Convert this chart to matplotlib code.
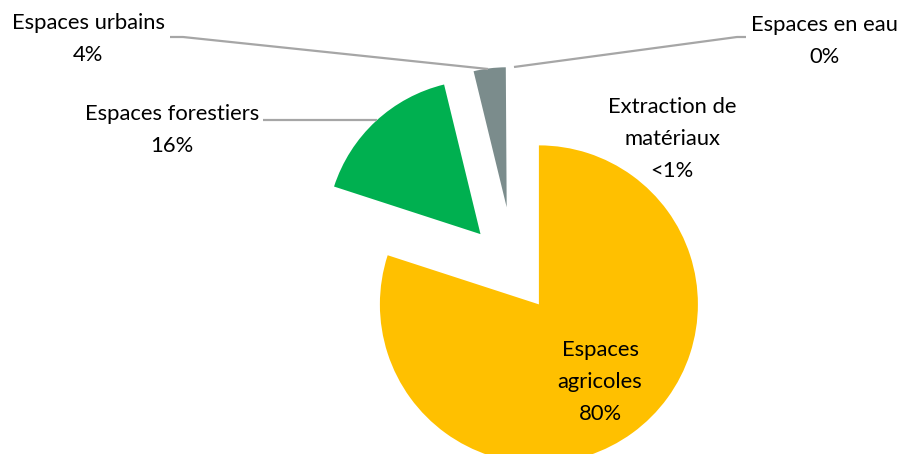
import matplotlib.pyplot as plt

# Land-use shares (percent)
categories = ["Espaces agricoles", "Espaces forestiers", "Espaces urbains",
              "Extraction de matériaux", "Espaces en eau"]
shares = [80.0, 16.2, 3.7, 0.1, 0.0]
display_names = ["Espaces\nagricoles", "Espaces forestiers", "Espaces urbains",
                 "Extraction de\nmatériaux", "Espaces en eau"]
colors = ["#FFC000", "#00B050", "#7B8C8C", "#FFFFFF", "#5B9BD5"]


def pct_label(v):
    if v == 0:
        return "0%"
    if v < 1:
        return "<1%"
    return f"{v:.0f}%"


W, H = 901, 454
fig = plt.figure(figsize=(W / 100, H / 100), dpi=100)
ax = fig.add_axes([0, 0, 1, 1])

R = 159
center = (514.5, H - 270.8)
explode = [41.5, 50.0, 64.0, 64.0, 0.0]   # offsets in canvas units
radii = [159, 154, 140, 140, 140]

wedges, _ = ax.pie(shares, colors=colors, startangle=90, counterclock=False,
                   radius=R, center=center, explode=explode, frame=True,
                   wedgeprops=dict(linewidth=0))
for w, r in zip(wedges, radii):
    w.set_radius(r)

ax.set_xlim(0, W)
ax.set_ylim(0, H)
ax.set_aspect("equal")
ax.axis("off")

font = dict(family="Lato", fontsize=15.8, color="black", ha="center",
            va="center", linespacing=1.75)

# label positions (x, y from top)
label_pos = [(600, 382), (172, 130), (88, 39), (672, 139), (824, 41)]
for name, v, (x, y) in zip(display_names, shares, label_pos):
    ax.text(x, H - y, f"{name}\n{pct_label(v)}", **font)

# leader lines
line_kw = dict(color="#A6A6A6", lw=1.6, solid_capstyle="butt")
leaders = [
    [(170, 37), (183, 37), (488, 69)],   # urbains
    [(263, 120), (377, 120)],            # forestiers
    [(514, 67), (737, 37), (746, 37)],   # eau
]
for pts in leaders:
    xs = [p[0] for p in pts]
    ys = [H - p[1] for p in pts]
    ax.plot(xs, ys, **line_kw)

fig.savefig("out.png", dpi=100)
